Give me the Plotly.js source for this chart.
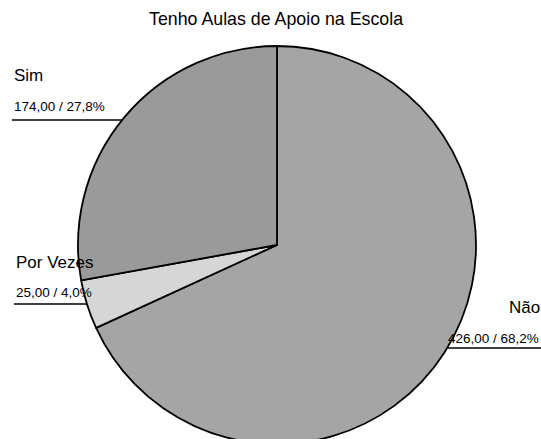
<!DOCTYPE html>
<html>
<head>
<meta charset="utf-8">
<script src="https://cdn.plot.ly/plotly-3.0.1.min.js"></script>
<style>
html,body{margin:0;padding:0;background:#fff;overflow:hidden;width:541px;height:439px;}
#chart{width:541px;height:450px;}
</style>
</head>
<body>
<div id="chart"></div>
<script>
const chartTitle = "Tenho Aulas de Apoio na Escola";
const categories = ["Não", "Por Vezes", "Sim"];
const values = [426, 25, 174];
const sliceColors = ["#a5a5a5", "#d6d6d6", "#9a9a9a"];

const W = 541, H = 450;
const total = values.reduce((a, b) => a + b, 0);
const fmt = (v, d) => v.toFixed(d).replace('.', ',');
const valueTexts = values.map(v => fmt(v, 2) + " / " + fmt(v / total * 100, 1) + "%");

// pie geometry (pixels)
const cx = 277, cy = 245, r = 199;

const px = x => x / W;
const py = y => 1 - y / H;

const font = "Liberation Sans, Arial, sans-serif";

const labelPos = {
  "Sim":       {nx: 12, ny: 76,  vx: 12, vy: 107, ly: 120, lx0: 12,  side: "left"},
  "Por Vezes": {nx: 14, ny: 262, vx: 14, vy: 292, ly: 304, lx0: 14,  side: "left"},
  "Não":       {nx: 507, ny: 307, vx: 446, vy: 338, ly: 348, lx0: 541, side: "right"}
};

const annotations = [];
const shapes = [];
categories.forEach((c, i) => {
  const p = labelPos[c];
  annotations.push({
    text: c, xref: "paper", yref: "paper", x: px(p.nx), y: py(p.ny),
    xanchor: "left", yanchor: "middle", showarrow: false,
    font: {family: font, size: 17, color: "#000"}
  });
  annotations.push({
    text: valueTexts[i], xref: "paper", yref: "paper", x: px(p.vx), y: py(p.vy),
    xanchor: "left", yanchor: "middle", showarrow: false,
    font: {family: font, size: 13.5, color: "#000"}
  });
  const dy = p.ly - cy;
  const dx = Math.sqrt(r * r - dy * dy);
  const edgeX = p.side === "left" ? cx - dx : cx + dx;
  shapes.push({
    type: "line", xref: "paper", yref: "paper",
    x0: px(p.lx0), x1: px(edgeX), y0: py(p.ly), y1: py(p.ly),
    line: {color: "#000", width: 1.5}
  });
});

annotations.push({
  text: chartTitle, xref: "paper", yref: "paper", x: px(276), y: py(19),
  xanchor: "center", yanchor: "middle", showarrow: false,
  font: {family: font, size: 17.8, color: "#000"}
});

const data = [{
  type: "pie",
  labels: categories,
  values: values,
  sort: false,
  direction: "clockwise",
  rotation: 0,
  textinfo: "none",
  hoverinfo: "skip",
  marker: {colors: sliceColors, line: {color: "#000", width: 1.8}},
  domain: {x: [px(cx - r), px(cx + r)], y: [py(cy + r), py(cy - r)]}
}];

const layout = {
  width: W, height: H,
  margin: {l: 0, r: 0, t: 0, b: 0},
  paper_bgcolor: "#fff",
  showlegend: false,
  annotations: annotations,
  shapes: shapes
};

Plotly.newPlot("chart", data, layout, {staticPlot: true, displayModeBar: false});
</script>
</body>
</html>
